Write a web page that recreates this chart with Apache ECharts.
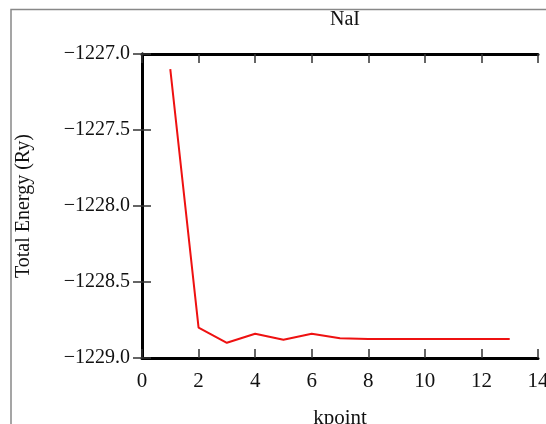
<!DOCTYPE html>
<html>
<head>
<meta charset="utf-8">
<script src="https://cdn.jsdelivr.net/npm/echarts@6/dist/echarts.min.js"></script>
<style>html,body{margin:0;padding:0;background:#fff;}#c{width:546px;height:424px;}</style>
</head>
<body>
<div id="c"></div>
<script>
const kpoints = [1, 2, 3, 4, 5, 6, 7, 8, 9, 10, 11, 12, 13];
const energy = [-1227.10, -1228.80, -1228.90, -1228.84, -1228.88, -1228.84, -1228.87, -1228.875, -1228.875, -1228.875, -1228.875, -1228.875, -1228.875];
const titleText = 'NaI';
const xName = 'kpoint';
const yName = 'Total Energy (Ry)';

const font = 'Liberation Serif';
const fmtY = v => (v < 0 ? '\u2212' : '') + Math.abs(v).toFixed(1);

const chart = echarts.init(document.getElementById('c'), null, {renderer: 'canvas'});
chart.setOption({
  animation: false,
  backgroundColor: '#fff',
  title: {text: titleText, left: 340, top: 5, textAlign: 'center',
    textStyle: {fontFamily: font, fontSize: 20, fontWeight: 'normal', color: '#111'}},
  grid: {left: 142, right: 8, top: 54, bottom: 66, containLabel: false, outerBoundsMode: 'none'},
  graphic: [{type: 'polyline', shape: {points: [[11, 424], [11, 9.5], [546, 9.5]]},
    style: {stroke: '#888', lineWidth: 1.5, fill: null}, silent: true}],
  xAxis: [{
    type: 'value', min: 0, max: 14, interval: 2, position: 'bottom',
    name: xName, nameLocation: 'middle', nameGap: 50,
    nameTextStyle: {fontFamily: font, fontSize: 21, color: '#111'},
    axisLine: {lineStyle: {color: '#000', width: 3}},
    axisTick: {inside: true, length: 9, lineStyle: {color: '#333', width: 1.5}},
    axisLabel: {fontFamily: font, fontSize: 21, color: '#111', margin: 13, hideOverlap: false},
    splitLine: {show: false}
  }, {
    type: 'value', min: 0, max: 14, interval: 2, position: 'top',
    axisLine: {lineStyle: {color: '#000', width: 3}},
    axisTick: {inside: true, length: 9, lineStyle: {color: '#333', width: 1.5}},
    axisLabel: {show: false}, splitLine: {show: false}
  }],
  yAxis: [{
    type: 'value', min: -1229, max: -1227, interval: 0.5, position: 'left',
    name: yName, nameLocation: 'middle', nameGap: 108,
    nameTextStyle: {fontFamily: font, fontSize: 20, color: '#111'},
    axisLine: {show: true, lineStyle: {color: '#000', width: 3}},
    axisTick: {show: true, inside: true, length: 9, lineStyle: {color: '#333', width: 1.5}},
    axisLabel: {fontFamily: font, fontSize: 20, color: '#111', margin: 12, formatter: fmtY},
    splitLine: {show: false}
  }, {
    type: 'value', min: -1229, max: -1227, interval: 0.5, position: 'right',
    axisLine: {show: true, lineStyle: {color: '#000', width: 3}},
    axisTick: {show: true, inside: true, length: 9, lineStyle: {color: '#333', width: 1.5}},
    axisLabel: {show: false}, splitLine: {show: false}
  }],
  series: [{
    type: 'line', xAxisIndex: 0, yAxisIndex: 0,
    data: kpoints.map((k, i) => [k, energy[i]]),
    showSymbol: false, lineStyle: {color: '#ee1111', width: 2}, itemStyle: {color: '#ee1111'}
  }]
});
</script>
</body>
</html>
